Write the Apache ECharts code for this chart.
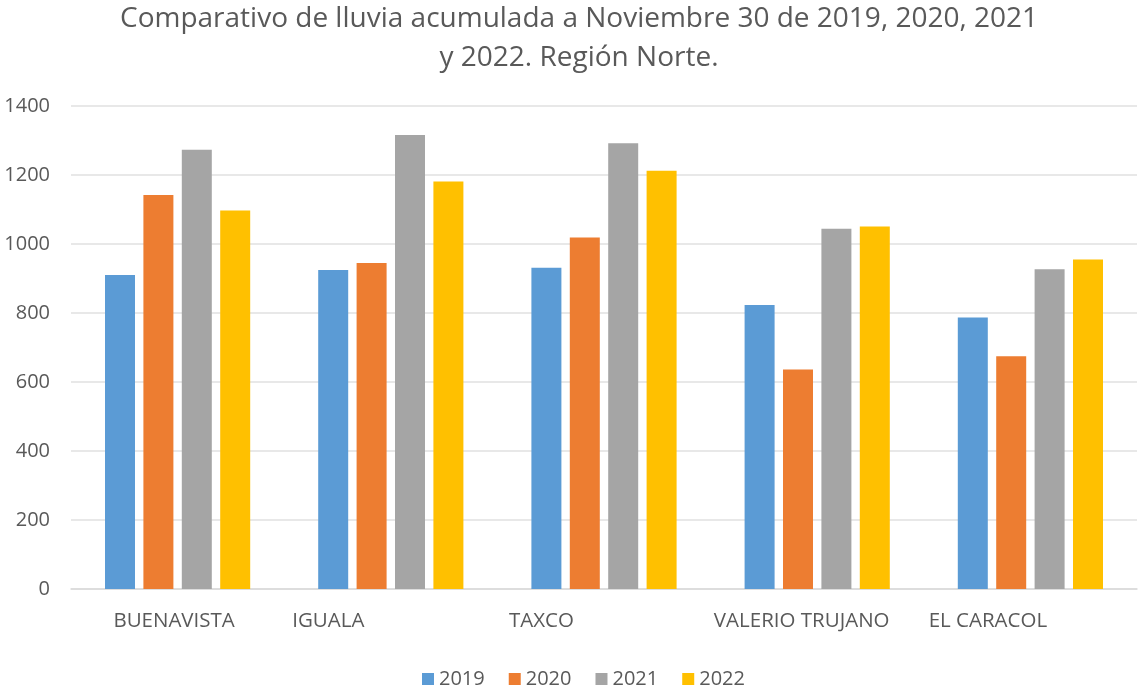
<!DOCTYPE html>
<html>
<head>
<meta charset="utf-8">
<script src="https://cdn.jsdelivr.net/npm/echarts@6/dist/echarts.min.js"></script>
<style>
  html, body { margin: 0; padding: 0; background: #fff; }
  #chart { width: 1139px; height: 688px; }
</style>
</head>
<body>
<div id="chart"></div>
<script>
// lluvia acumulada (mm) por estación
const categories = ['BUENAVISTA', 'IGUALA', 'TAXCO', 'VALERIO TRUJANO', 'EL CARACOL']
const years = ['2019', '2020', '2021', '2022']
const data2019 = [910, 925, 931, 823, 787]
const data2020 = [1142, 945, 1019, 636, 675]
const data2021 = [1273, 1316, 1292, 1044, 927]
const data2022 = [1097, 1181, 1212, 1051, 955]
const yTicks = [0, 200, 400, 600, 800, 1000, 1200, 1400]

// excel dejó las etiquetas corridas a la izquierda
const labelShift = [7, 125, 125, 31, 85]

const colors = ['#5b9bd5', '#ed7d31', '#a5a5a5', '#ffc000']
const seriesData = [data2019, data2020, data2021, data2022]
const font = 'Open Sans'

let chartInstance = echarts.init(document.getElementById('chart'))

let rich = {}
categories.forEach((c, i) => {
  rich['c' + i] = {
    fontFamily: font,
    fontSize: 20.5,
    color: '#595959',
    padding: [0, labelShift[i], 0, 0]
  }
})

const option = {
  backgroundColor: '#ffffff',
  animation: false,
  color: colors,
  title: {
    text: 'Comparativo de lluvia acumulada a Noviembre 30 de 2019, 2020, 2021\ny 2022. Región Norte.',
    left: 574,
    textAlign: 'center',
    top: -5,
    textStyle: {
      fontFamily: font,
      fontSize: 28,
      fontWeight: 'normal',
      color: '#595959',
      lineHeight: 39
    }
  },
  legend: {
    data: years,
    left: 417,
    top: 664,
    itemWidth: 12,
    itemHeight: 12,
    itemGap: 24,
    icon: 'rect',
    textStyle: {
      fontFamily: font,
      fontSize: 20,
      color: '#595959'
    }
  },
  grid: {
    left: 71,
    right: 2,
    top: 106,
    bottom: 99
  },
  xAxis: {
    type: 'category',
    data: categories,
    axisLine: { lineStyle: { color: '#d9d9d9', width: 1.5 } },
    axisTick: { show: false },
    axisLabel: {
      margin: 22,
      interval: 0,
      formatter: function (value, idx) {
        return '{c' + idx + '|' + value + '}'
      },
      rich: rich
    }
  },
  yAxis: {
    type: 'value',
    min: yTicks[0],
    max: yTicks[yTicks.length - 1],
    interval: 200,
    axisLine: { show: false },
    axisTick: { show: false },
    splitLine: { lineStyle: { color: '#e0e0e0', width: 1.5 } },
    axisLabel: {
      margin: 21,
      fontFamily: font,
      fontSize: 20,
      color: '#595959',
      formatter: function (v) {
        return String(v)
      }
    }
  },
  series: years.map((y, i) => ({
    name: y,
    type: 'bar',
    barWidth: 30,
    barGap: '28%',
    data: seriesData[i],
    itemStyle: { color: colors[i] }
  }))
}

chartInstance.setOption(option)
window.onresize = function () {
  chartInstance.resize()
}
</script>
</body>
</html>
